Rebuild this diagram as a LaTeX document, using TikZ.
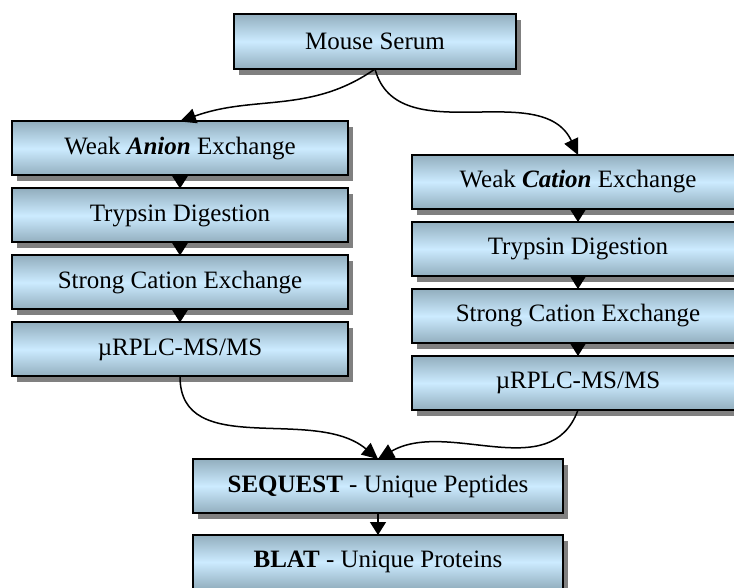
\documentclass[tikz,border=0pt]{standalone}
\usepackage{fontspec}
\setmainfont{Liberation Serif}
\usetikzlibrary{positioning, shadows, arrows.meta}
\definecolor{boxedge}{RGB}{146,174,190}
\definecolor{boxmid}{RGB}{204,235,255}

\begin{document}
\begin{tikzpicture}[
    node distance = 6.5pt,
    font=\fontsize{12.5}{15}\selectfont,
    blk/.style={
        draw, rectangle, line width=1pt, inner sep=0pt, outer sep=0pt, minimum height=27pt,
        top color=boxedge, bottom color=boxedge, middle color=boxmid,
        drop shadow={shadow xshift=2.5pt, shadow yshift=-3pt, fill=black!50, opacity=1}
    },
    lcol/.style={blk, minimum width=168pt},
    rcol/.style={blk, minimum width=166pt},
    conn/.style={line width=.75pt, -{Triangle[length=6.5pt,width=8pt]}},
    curv/.style={line width=.75pt, -{Triangle[length=8pt,width=7.5pt]}},
]

    \useasboundingbox (0,0) rectangle (367pt,-294pt);

    \node[blk, minimum width=141pt, minimum height=27.5pt] (ms) at (187.5pt,-20.75pt) {Mouse Serum};

    % anion side
    \node[lcol] (wa) at (90pt,-74.25pt) {Weak \textbf{\textit{Anion}} Exchange};
    \node[lcol,below=of wa] (ltd) {Trypsin Digestion};
    \node[lcol,below=of ltd] (lsc) {Strong Cation Exchange};
    \node[lcol,below=of lsc] (lrp) {µRPLC-MS/MS};

    % cation side
    \node[rcol] (wc) at (289pt,-91pt) {Weak \textbf{\textit{Cation}} Exchange};
    \node[rcol,below=of wc] (rtd) {Trypsin Digestion};
    \node[rcol,below=of rtd] (rsc) {Strong Cation Exchange};
    \node[rcol,below=of rsc] (rrp) {µRPLC-MS/MS};

    \node[blk, minimum width=185pt] (sq) at (189pt,-243pt) {\textbf{SEQUEST} - Unique Peptides};
    \node[blk, minimum width=185pt, below=11pt of sq] (bl) {\textbf{BLAT} - Unique Proteins};

    \draw[curv] (ms.south) to[out=-145,in=20] (wa.north);
    \draw[curv] (ms.south) to[out=-75,in=115] (wc.north);

    \draw[conn] (wa) -- (ltd);
    \draw[conn] (ltd) -- (lsc);
    \draw[conn] (lsc) -- (lrp);

    \draw[conn] (wc) -- (rtd);
    \draw[conn] (rtd) -- (rsc);
    \draw[conn] (rsc) -- (rrp);

    \draw[curv] (lrp.south) to[out=-90,in=140] (sq.north);
    \draw[curv] (rrp.south) to[out=-110,in=30] (sq.north);
    \draw[conn] (sq) -- (bl);

\end{tikzpicture}
\end{document}
